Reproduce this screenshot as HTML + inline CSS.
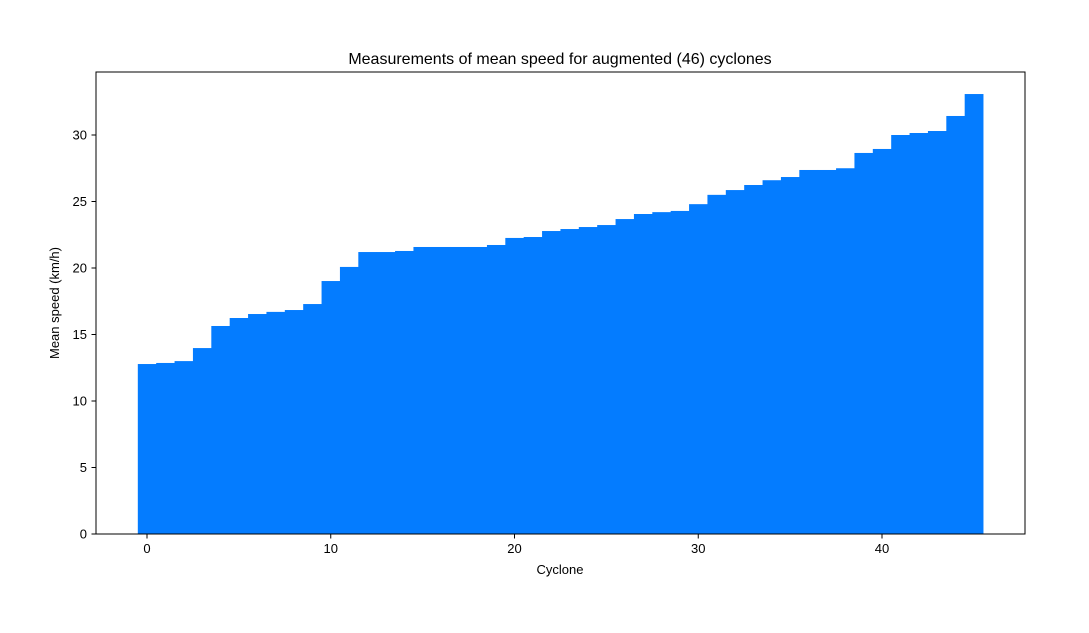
<!DOCTYPE html>
<html><head><meta charset="utf-8"><style>
body{margin:0;background:#fff;}
svg text{font-family:"Liberation Sans","DejaVu Sans",sans-serif;fill:#000;}
</style></head><body>
<svg id="chart" width="1089" height="628" xmlns="http://www.w3.org/2000/svg">
<rect width="1089" height="628" fill="#fff"/>
<g id="bars"></g>
<g id="axes"></g>
<rect x="96" y="72" width="929" height="462" fill="none" stroke="#000" stroke-width="1"/>
<text x="560" y="64" font-size="16" text-anchor="middle">Measurements of mean speed for augmented (46) cyclones</text>
<text x="560" y="574" font-size="13" text-anchor="middle">Cyclone</text>
<text x="59" y="303" font-size="13" text-anchor="middle" transform="rotate(-90 59 303)">Mean speed (km/h)</text>
</svg>
<script>
const values = [12.78,12.86,13.0,13.98,15.64,16.24,16.54,16.7,16.84,17.29,19.02,20.08,21.2,21.2,21.28,21.58,21.58,21.58,21.58,21.73,22.26,22.33,22.78,22.93,23.08,23.23,23.68,24.06,24.2,24.29,24.8,25.5,25.86,26.24,26.6,26.84,27.37,27.37,27.5,28.65,28.95,30.0,30.15,30.3,31.43,33.08];
const xTicks = [0,10,20,30,40];
const yTicks = [0,5,10,15,20,25,30];
const NS = "http://www.w3.org/2000/svg";
function xs(v){return 147 + v*18.375;}
function ys(v){return 534 - v*13.3;}
const bars = document.getElementById('bars');
values.forEach((v,i)=>{
  const r=document.createElementNS(NS,'rect');
  
  
  r.setAttribute('x',xs(i-0.5));
  r.setAttribute('width',18.375+0.4);
  r.setAttribute('y',ys(v));
  r.setAttribute('height',ys(0)-ys(v));
  r.setAttribute('fill','#047cff');
  bars.appendChild(r);
});
const axes=document.getElementById('axes');
xTicks.forEach(t=>{
  const l=document.createElementNS(NS,'line');
  
  
  l.setAttribute('x1',xs(t));l.setAttribute('x2',xs(t));
  l.setAttribute('y1',534);l.setAttribute('y2',538.5);
  l.setAttribute('stroke','#000');
  axes.appendChild(l);
  const tx=document.createElementNS(NS,'text');
  
  
  tx.setAttribute('x',xs(t));tx.setAttribute('y',553);
  tx.setAttribute('font-size','13');tx.setAttribute('text-anchor','middle');
  tx.textContent=t;
  axes.appendChild(tx);
});
yTicks.forEach(t=>{
  const l=document.createElementNS(NS,'line');
  
  
  l.setAttribute('x1',91.5);l.setAttribute('x2',96);
  l.setAttribute('y1',ys(t));l.setAttribute('y2',ys(t));
  l.setAttribute('stroke','#000');
  axes.appendChild(l);
  const tx=document.createElementNS(NS,'text');
  
  
  tx.setAttribute('x',87);tx.setAttribute('y',ys(t)+4.5);
  tx.setAttribute('font-size','13');tx.setAttribute('text-anchor','end');
  tx.textContent=t;
  axes.appendChild(tx);
});
</script>
</body></html>
